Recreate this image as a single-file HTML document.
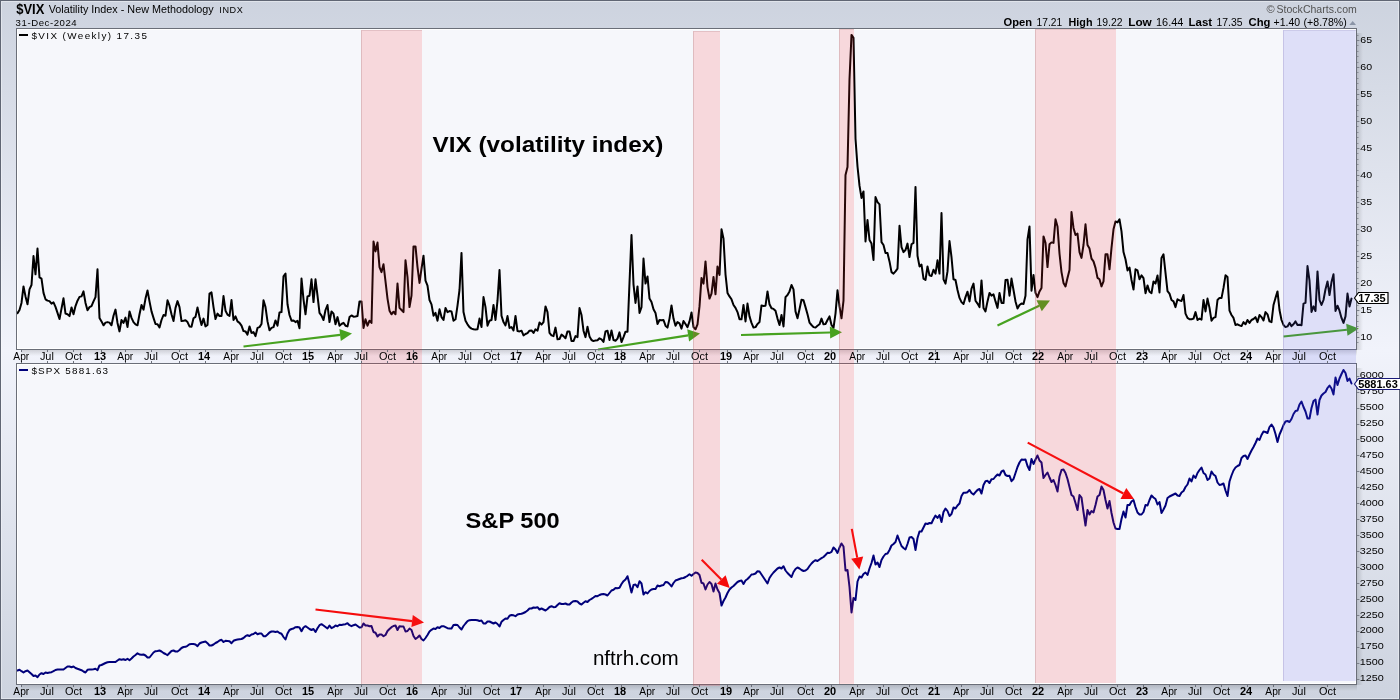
<!DOCTYPE html>
<html><head><meta charset="utf-8"><title>$VIX</title>
<style>
html,body{margin:0;padding:0;background:#cfd4df;}
body{width:1400px;height:700px;overflow:hidden;position:relative;font-family:"Liberation Sans",sans-serif;}
svg{position:absolute;left:0;top:0;display:block;will-change:transform}
svg text{font-family:"Liberation Sans",sans-serif;fill:#000}
</style></head><body>
<svg width="1400" height="700" viewBox="0 0 1400 700">
<defs>
<linearGradient id="bg" x1="0" y1="0" x2="0" y2="1">
<stop offset="0" stop-color="#cdd3df"/><stop offset="0.5" stop-color="#f1f3fb"/><stop offset="1" stop-color="#cdd3df"/>
</linearGradient>
<linearGradient id="shr" x1="0" y1="0" x2="1" y2="0">
<stop offset="0" stop-color="#000" stop-opacity="0.14"/><stop offset="1" stop-color="#000" stop-opacity="0"/>
</linearGradient>
<linearGradient id="shb" x1="0" y1="0" x2="0" y2="1">
<stop offset="0" stop-color="#000" stop-opacity="0.14"/><stop offset="1" stop-color="#000" stop-opacity="0"/>
</linearGradient>
<clipPath id="c1"><rect x="17" y="29" width="1340" height="320"/></clipPath>
<clipPath id="c2"><rect x="17" y="364" width="1340" height="320"/></clipPath>
</defs>
<rect x="0" y="0" width="1400" height="700" fill="url(#bg)"/>

<rect x="1.5" y="1.5" width="1397" height="697" fill="none" stroke="#ffffff" stroke-opacity="0.38" stroke-width="1"/>
<rect x="0.5" y="0.5" width="1399" height="699" fill="none" stroke="#606674" stroke-width="1"/>
<rect x="1357" y="33" width="6" height="317" fill="url(#shr)"/>
<rect x="21" y="350" width="1336" height="6" fill="url(#shb)"/>
<rect x="1357" y="368" width="6" height="317" fill="url(#shr)"/>
<rect x="21" y="685" width="1336" height="6" fill="url(#shb)"/>
<rect x="16" y="28" width="1341" height="322" fill="#f6f7fb"/>
<rect x="17.5" y="29.5" width="1338" height="319" fill="none" stroke="#ffffff" stroke-width="1"/>
<rect x="16" y="363" width="1341" height="322" fill="#f6f7fb"/>
<rect x="17.5" y="364.5" width="1338" height="319" fill="none" stroke="#ffffff" stroke-width="1"/>
<g clip-path="url(#c1)"><polyline points="17.5,313.1 19.5,310.0 21.5,302.9 23.5,286.4 25.5,296.4 27.5,304.3 29.5,289.3 31.5,285.0 33.5,256.1 35.5,274.3 37.5,248.6 39.5,277.4 41.5,278.6 43.5,292.9 45.5,299.3 47.5,300.6 49.5,301.1 51.5,303.6 53.5,302.4 55.5,306.9 57.5,312.9 59.5,319.0 61.5,308.6 63.5,298.3 65.5,313.6 67.5,314.3 69.5,316.1 71.5,307.4 73.5,314.3 75.5,306.1 77.5,300.7 79.5,296.9 81.5,296.4 83.5,291.4 85.5,302.9 87.5,310.3 89.5,307.1 91.5,306.1 93.5,301.4 95.5,297.1 97.5,269.3 99.5,317.9 101.5,321.4 103.5,325.3 105.5,322.6 107.5,322.1 109.5,322.6 111.5,325.3 113.5,315.7 115.5,309.6 117.5,322.9 119.5,331.4 121.5,320.0 123.5,322.9 125.5,317.6 127.5,327.1 129.5,311.4 131.5,317.9 133.5,322.1 135.5,324.3 137.5,325.3 139.5,314.3 141.5,305.0 143.5,309.7 145.5,298.6 147.5,290.4 149.5,301.4 151.5,311.4 153.5,317.9 155.5,324.0 157.5,324.3 159.5,327.4 161.5,320.0 163.5,315.0 165.5,315.7 167.5,300.3 169.5,305.7 171.5,314.3 173.5,321.0 175.5,307.9 177.5,301.1 179.5,307.1 181.5,321.0 183.5,320.7 185.5,320.3 187.5,322.1 189.5,326.4 191.5,326.7 193.5,318.3 195.5,316.9 197.5,307.4 199.5,316.9 201.5,325.0 203.5,318.6 205.5,326.4 207.5,325.0 209.5,293.6 211.5,292.4 213.5,307.1 215.5,319.0 217.5,313.6 219.5,316.0 221.5,316.0 223.5,296.1 225.5,310.7 227.5,314.6 229.5,316.0 231.5,300.0 233.5,320.0 235.5,316.4 237.5,321.4 239.5,322.9 241.5,325.7 243.5,331.1 245.5,331.4 247.5,334.6 249.5,326.4 251.5,332.9 253.5,332.1 255.5,336.1 257.5,327.9 259.5,327.1 261.5,324.0 263.5,300.3 265.5,307.1 267.5,321.4 269.5,330.3 271.5,327.9 273.5,327.1 275.5,320.4 277.5,325.7 279.5,312.4 281.5,312.1 283.5,276.4 285.5,273.6 287.5,304.3 289.5,315.0 291.5,320.7 293.5,320.4 295.5,322.1 297.5,320.7 299.5,328.3 301.5,278.6 303.5,299.3 305.5,314.3 307.5,296.4 309.5,295.7 311.5,279.3 313.5,302.1 315.5,279.3 317.5,295.7 319.5,312.9 321.5,315.7 323.5,320.0 325.5,310.0 327.5,305.0 329.5,322.1 331.5,311.4 333.5,313.6 335.5,324.3 337.5,317.1 339.5,325.7 341.5,324.0 343.5,322.9 345.5,325.7 347.5,326.4 349.5,317.1 351.5,315.4 353.5,316.7 355.5,316.4 357.5,316.0 359.5,301.4 361.5,301.4 363.5,327.9 365.5,319.3 367.5,325.7 369.5,320.7 371.5,322.9 373.5,241.4 375.5,251.4 377.5,242.6 379.5,267.1 381.5,272.1 383.5,264.3 385.5,281.4 387.5,298.6 389.5,310.7 391.5,314.3 393.5,311.7 395.5,314.3 397.5,283.6 399.5,307.9 401.5,310.0 403.5,312.1 405.5,260.3 407.5,277.1 409.5,307.1 411.5,295.7 413.5,246.4 415.5,246.4 417.5,267.1 419.5,282.9 421.5,268.6 423.5,255.7 425.5,280.7 427.5,285.7 429.5,300.0 431.5,304.3 433.5,315.7 435.5,312.9 437.5,320.7 439.5,309.3 441.5,317.1 443.5,320.0 445.5,307.9 447.5,312.1 449.5,311.1 451.5,311.4 453.5,320.7 455.5,319.3 457.5,305.7 459.5,290.0 461.5,252.9 463.5,312.1 465.5,320.7 467.5,324.3 469.5,327.1 471.5,328.6 473.5,329.3 475.5,329.6 477.5,329.3 479.5,318.6 481.5,327.1 483.5,297.1 485.5,307.1 487.5,325.7 489.5,320.7 491.5,320.0 493.5,305.0 495.5,320.0 497.5,300.7 499.5,270.0 501.5,315.7 503.5,322.1 505.5,325.4 507.5,316.1 509.5,327.9 511.5,327.1 513.5,330.4 515.5,316.0 517.5,331.1 519.5,331.4 521.5,330.7 523.5,335.4 525.5,334.0 527.5,333.1 529.5,330.7 531.5,330.4 533.5,332.9 535.5,329.3 537.5,330.7 539.5,322.4 541.5,324.6 543.5,322.1 545.5,306.4 547.5,312.1 549.5,332.9 551.5,335.4 553.5,336.1 555.5,327.6 557.5,339.3 559.5,339.0 561.5,334.6 563.5,336.1 565.5,338.3 567.5,331.4 569.5,331.4 571.5,341.1 573.5,341.1 575.5,336.1 577.5,337.1 579.5,308.1 581.5,315.0 583.5,330.7 585.5,337.1 587.5,326.7 589.5,336.4 591.5,340.0 593.5,341.1 595.5,340.4 597.5,340.3 599.5,338.3 601.5,339.3 603.5,341.9 605.5,331.4 607.5,330.7 609.5,340.0 611.5,330.4 613.5,340.0 615.5,340.7 617.5,338.6 619.5,332.4 621.5,342.1 623.5,337.1 625.5,331.7 627.5,331.7 629.5,282.9 631.5,235.0 633.5,284.3 635.5,302.9 637.5,286.4 639.5,312.9 641.5,307.1 643.5,258.6 645.5,283.6 647.5,276.4 649.5,298.6 651.5,302.1 653.5,309.3 655.5,312.9 657.5,324.0 659.5,320.0 661.5,320.3 663.5,320.0 665.5,325.7 667.5,327.6 669.5,318.6 671.5,305.4 673.5,318.6 675.5,325.7 677.5,322.1 679.5,323.3 681.5,328.6 683.5,321.0 685.5,324.0 687.5,327.1 689.5,321.4 691.5,312.4 693.5,327.1 695.5,329.3 697.5,324.3 699.5,306.4 701.5,277.9 703.5,283.6 705.5,261.4 707.5,287.1 709.5,298.6 711.5,293.6 713.5,276.9 715.5,294.3 717.5,266.4 719.5,275.0 721.5,229.3 723.5,238.6 725.5,274.3 727.5,292.9 729.5,296.4 731.5,299.3 733.5,305.0 735.5,307.9 737.5,312.1 739.5,319.3 741.5,319.3 743.5,305.0 745.5,321.4 747.5,303.6 749.5,316.4 751.5,322.9 753.5,327.6 755.5,327.1 757.5,324.0 759.5,322.1 761.5,305.4 763.5,306.0 765.5,305.7 767.5,291.4 769.5,304.3 771.5,308.3 773.5,308.9 775.5,310.7 777.5,318.6 779.5,325.0 781.5,315.0 783.5,326.4 785.5,297.1 787.5,295.0 789.5,291.4 791.5,285.0 793.5,289.3 795.5,311.4 797.5,318.3 799.5,309.3 801.5,299.7 803.5,300.3 805.5,307.1 807.5,314.3 809.5,322.6 811.5,325.0 813.5,327.1 815.5,327.6 817.5,325.7 819.5,324.3 821.5,318.6 823.5,324.3 825.5,324.0 827.5,320.0 829.5,316.4 831.5,325.0 833.5,327.9 835.5,313.6 837.5,290.3 839.5,306.4 841.5,318.3 843.5,300.7 845.5,175.0 847.5,167.1 849.5,79.2 851.5,34.9 853.5,37.8 855.5,138.7 857.5,166.5 859.5,185.7 861.5,197.9 863.5,191.4 865.5,241.4 867.5,220.0 869.5,240.0 871.5,243.6 873.5,260.0 875.5,197.1 877.5,202.1 879.5,204.3 881.5,242.1 883.5,245.0 885.5,252.9 887.5,253.1 889.5,261.4 891.5,272.1 893.5,273.6 895.5,271.4 897.5,268.6 899.5,225.7 901.5,247.1 903.5,252.1 905.5,250.0 907.5,243.6 909.5,257.1 911.5,244.3 913.5,242.9 915.5,186.9 917.5,255.7 919.5,266.4 921.5,264.6 923.5,278.6 925.5,280.0 927.5,266.4 929.5,275.4 931.5,276.0 933.5,269.7 935.5,273.6 937.5,260.3 939.5,273.6 941.5,213.1 943.5,279.3 945.5,283.6 947.5,271.4 949.5,241.1 951.5,257.1 953.5,279.3 955.5,280.0 957.5,290.0 959.5,297.9 961.5,302.1 963.5,304.0 965.5,297.1 967.5,291.7 969.5,301.4 971.5,288.6 973.5,283.6 975.5,300.7 977.5,303.6 979.5,307.1 981.5,280.4 983.5,307.9 985.5,311.4 987.5,301.4 989.5,292.9 991.5,295.7 993.5,294.3 995.5,301.4 997.5,307.9 999.5,292.9 1001.5,302.9 1003.5,303.1 1005.5,280.0 1007.5,279.7 1009.5,295.7 1011.5,278.6 1013.5,290.0 1015.5,301.4 1017.5,308.6 1019.5,305.0 1021.5,303.6 1023.5,304.0 1025.5,295.7 1027.5,239.3 1029.5,226.4 1031.5,290.7 1033.5,275.0 1035.5,292.9 1037.5,297.1 1039.5,291.4 1041.5,287.9 1043.5,236.4 1045.5,242.9 1047.5,267.1 1049.5,244.3 1051.5,242.4 1053.5,242.9 1055.5,219.3 1057.5,226.4 1059.5,253.6 1061.5,272.1 1063.5,282.9 1065.5,286.4 1067.5,277.9 1069.5,270.0 1071.5,212.1 1073.5,227.9 1075.5,235.0 1077.5,233.6 1079.5,252.1 1081.5,257.9 1083.5,245.0 1085.5,224.3 1087.5,245.0 1089.5,248.6 1091.5,258.6 1093.5,261.4 1095.5,267.9 1097.5,277.9 1099.5,279.3 1101.5,286.4 1103.5,281.4 1105.5,254.3 1107.5,254.3 1109.5,269.3 1111.5,247.9 1113.5,229.3 1115.5,221.4 1117.5,222.4 1119.5,219.3 1121.5,231.4 1123.5,252.1 1125.5,259.3 1127.5,270.4 1129.5,267.5 1131.5,280.0 1133.5,289.6 1135.5,269.3 1137.5,270.4 1139.5,279.3 1141.5,275.4 1143.5,278.2 1145.5,293.2 1147.5,285.4 1149.5,291.8 1151.5,293.2 1153.5,281.4 1155.5,283.6 1157.5,275.4 1159.5,292.5 1161.5,257.9 1163.5,254.3 1165.5,272.9 1167.5,291.1 1169.5,293.6 1171.5,300.0 1173.5,301.4 1175.5,307.1 1177.5,299.3 1179.5,300.4 1181.5,301.0 1183.5,295.0 1185.5,313.6 1187.5,317.9 1189.5,319.3 1191.5,319.3 1193.5,318.6 1195.5,312.1 1197.5,320.0 1199.5,318.6 1201.5,319.6 1203.5,300.0 1205.5,311.4 1207.5,298.6 1209.5,307.9 1211.5,320.7 1213.5,317.9 1215.5,317.1 1217.5,300.0 1219.5,297.9 1221.5,298.1 1223.5,287.9 1225.5,275.3 1227.5,277.1 1229.5,310.7 1231.5,315.0 1233.5,317.9 1235.5,325.0 1237.5,324.3 1239.5,325.4 1241.5,326.1 1243.5,322.1 1245.5,324.3 1247.5,320.0 1249.5,322.9 1251.5,320.0 1253.5,319.0 1255.5,317.1 1257.5,322.1 1259.5,315.0 1261.5,317.1 1263.5,320.4 1265.5,312.1 1267.5,314.3 1269.5,321.4 1271.5,322.1 1273.5,305.0 1275.5,297.9 1277.5,291.4 1279.5,310.0 1281.5,320.0 1283.5,325.0 1285.5,327.1 1287.5,326.4 1289.5,322.9 1291.5,326.1 1293.5,324.3 1295.5,321.4 1297.5,325.0 1299.5,324.7 1301.5,325.3 1303.5,303.6 1305.5,302.9 1307.5,266.1 1309.5,280.7 1311.5,311.9 1313.5,306.4 1315.5,311.0 1317.5,271.4 1319.5,300.0 1321.5,305.0 1323.5,300.0 1325.5,289.3 1327.5,281.4 1329.5,295.0 1331.5,282.1 1333.5,274.3 1335.5,311.0 1337.5,305.7 1339.5,310.7 1341.5,317.9 1343.5,322.9 1345.5,316.4 1347.5,293.6 1349.5,306.4 1351.5,298.6" fill="none" stroke="#000000" stroke-width="2" stroke-linejoin="round" stroke-linecap="round"/></g>
<g clip-path="url(#c2)"><polyline points="17.5,670.5 19.5,669.8 21.5,671.2 23.5,672.5 25.5,671.2 27.5,670.5 29.5,672.2 31.5,674.0 33.5,676.0 35.5,675.5 37.5,677.2 39.5,674.5 41.5,673.2 43.5,674.0 45.5,672.5 47.5,673.0 49.5,672.5 51.5,672.2 53.5,671.2 55.5,670.0 57.5,669.5 59.5,669.5 61.5,669.5 63.5,669.5 65.5,668.0 67.5,666.5 69.5,666.5 71.5,667.2 73.5,666.5 75.5,668.0 77.5,668.8 79.5,669.5 81.5,670.2 83.5,671.5 85.5,672.5 87.5,669.8 89.5,669.5 91.5,669.5 93.5,669.2 95.5,668.8 97.5,670.2 99.5,665.5 101.5,665.0 103.5,664.0 105.5,663.0 107.5,662.2 109.5,662.0 111.5,662.0 113.5,662.0 115.5,662.0 117.5,660.5 119.5,659.2 121.5,659.7 123.5,659.2 125.5,660.0 127.5,658.8 129.5,660.2 131.5,658.5 133.5,656.5 135.5,655.0 137.5,653.3 139.5,654.5 141.5,654.8 143.5,654.5 145.5,655.5 147.5,657.5 149.5,657.5 151.5,655.0 153.5,652.5 155.5,651.2 157.5,651.0 159.5,650.5 161.5,651.5 163.5,653.0 165.5,654.0 167.5,655.2 169.5,653.0 171.5,651.0 173.5,650.5 175.5,651.5 177.5,651.5 179.5,650.0 181.5,648.0 183.5,647.0 185.5,646.8 187.5,645.8 189.5,644.2 191.5,644.0 193.5,644.0 195.5,644.5 197.5,646.2 199.5,643.5 201.5,642.5 203.5,642.0 205.5,641.5 207.5,643.2 209.5,645.5 211.5,645.5 213.5,644.5 215.5,643.0 217.5,642.0 219.5,640.5 221.5,639.8 223.5,642.0 225.5,640.8 227.5,641.0 229.5,641.2 231.5,643.2 233.5,640.8 235.5,640.0 237.5,639.5 239.5,639.2 241.5,639.0 243.5,638.0 245.5,636.2 247.5,635.2 249.5,636.0 251.5,634.5 253.5,634.0 255.5,632.5 257.5,634.2 259.5,633.5 261.5,633.5 263.5,636.2 265.5,636.2 267.5,634.5 269.5,632.5 271.5,631.5 273.5,631.5 275.5,632.0 277.5,631.5 279.5,633.0 281.5,633.8 283.5,637.0 285.5,639.5 287.5,633.5 289.5,630.0 291.5,629.0 293.5,628.5 295.5,627.2 297.5,627.0 299.5,627.5 301.5,631.2 303.5,627.5 305.5,626.2 307.5,627.5 309.5,629.0 311.5,630.0 313.5,629.0 315.5,632.0 317.5,628.2 319.5,625.2 321.5,624.2 323.5,625.5 325.5,627.0 327.5,628.5 329.5,625.5 331.5,628.2 333.5,627.2 335.5,625.5 337.5,626.2 339.5,624.8 341.5,625.0 343.5,624.5 345.5,624.2 347.5,623.2 349.5,625.2 351.5,626.2 353.5,625.2 355.5,624.5 357.5,626.0 359.5,627.5 361.5,627.2 363.5,623.5 365.5,625.5 367.5,625.5 369.5,626.2 371.5,626.0 373.5,632.0 375.5,632.8 377.5,636.5 379.5,634.5 381.5,634.5 383.5,636.2 385.5,635.0 387.5,631.0 389.5,629.0 391.5,627.2 393.5,626.0 395.5,625.5 397.5,630.0 399.5,626.2 401.5,626.5 403.5,626.5 405.5,631.5 407.5,631.0 409.5,628.5 411.5,630.0 413.5,636.0 415.5,639.0 417.5,637.5 419.5,635.5 421.5,639.0 423.5,640.5 425.5,638.0 427.5,635.0 429.5,631.5 431.5,629.8 433.5,628.5 435.5,629.0 437.5,627.2 439.5,628.0 441.5,626.2 443.5,626.2 445.5,627.2 447.5,628.2 449.5,628.5 451.5,628.5 453.5,625.0 455.5,624.8 457.5,625.0 459.5,627.5 461.5,629.5 463.5,626.0 465.5,623.5 467.5,621.2 469.5,620.2 471.5,620.0 473.5,620.0 475.5,620.0 477.5,620.2 479.5,621.0 481.5,620.5 483.5,623.5 485.5,623.5 487.5,621.5 489.5,621.5 491.5,622.5 493.5,623.5 495.5,622.5 497.5,624.0 499.5,626.5 501.5,621.8 503.5,620.0 505.5,618.5 507.5,618.8 509.5,615.8 511.5,615.0 513.5,615.3 515.5,616.2 517.5,614.5 519.5,614.0 521.5,613.8 523.5,613.0 525.5,612.0 527.5,610.5 529.5,608.5 531.5,608.5 533.5,607.5 535.5,607.8 537.5,607.2 539.5,609.5 541.5,608.5 543.5,609.5 545.5,610.5 547.5,609.0 549.5,607.0 551.5,606.2 553.5,607.2 555.5,607.0 557.5,605.0 559.5,603.2 561.5,604.0 563.5,604.0 565.5,603.5 567.5,604.5 569.5,604.5 571.5,602.5 573.5,601.2 575.5,601.0 577.5,601.5 579.5,603.5 581.5,604.5 583.5,602.8 585.5,601.2 587.5,602.0 589.5,600.0 591.5,598.8 593.5,597.5 595.5,596.0 597.5,596.2 599.5,595.0 601.5,594.2 603.5,594.0 605.5,594.5 607.5,595.5 609.5,593.0 611.5,590.5 613.5,589.8 615.5,588.0 617.5,588.2 619.5,587.8 621.5,584.0 623.5,581.2 625.5,579.5 627.5,576.2 629.5,584.0 631.5,592.5 633.5,585.0 635.5,584.5 637.5,587.2 639.5,581.2 641.5,583.5 643.5,594.5 645.5,592.2 647.5,593.5 649.5,591.0 651.5,589.5 653.5,589.0 655.5,589.0 657.5,585.5 659.5,586.2 661.5,585.5 663.5,585.0 665.5,582.0 667.5,582.2 669.5,584.0 671.5,586.5 673.5,583.0 675.5,580.5 677.5,579.8 679.5,579.0 681.5,578.2 683.5,578.0 685.5,577.0 687.5,575.8 689.5,574.2 691.5,575.8 693.5,574.0 695.5,572.5 697.5,573.0 699.5,575.0 701.5,582.8 703.5,583.5 705.5,589.5 707.5,584.5 709.5,582.0 711.5,584.0 713.5,591.5 715.5,583.5 717.5,589.5 719.5,593.0 721.5,605.5 723.5,601.0 725.5,597.5 727.5,593.0 729.5,589.5 731.5,587.5 733.5,586.0 735.5,584.0 737.5,582.0 739.5,581.0 741.5,580.5 743.5,584.0 745.5,580.5 747.5,579.0 749.5,577.0 751.5,574.5 753.5,574.2 755.5,573.5 757.5,571.2 759.5,571.5 761.5,574.5 763.5,577.5 765.5,580.5 767.5,583.5 769.5,578.0 771.5,575.0 773.5,572.5 775.5,570.5 777.5,568.5 779.5,567.5 781.5,568.5 783.5,566.2 785.5,570.5 787.5,573.0 789.5,575.0 791.5,577.0 793.5,572.0 795.5,569.0 797.5,567.5 799.5,568.5 801.5,570.0 803.5,571.0 805.5,570.5 807.5,569.0 809.5,566.0 811.5,563.5 813.5,561.5 815.5,560.2 817.5,561.0 819.5,559.5 821.5,558.2 823.5,557.0 825.5,555.0 827.5,552.8 829.5,553.0 831.5,551.8 833.5,547.5 835.5,549.5 837.5,553.0 839.5,547.5 841.5,543.5 843.5,546.5 845.5,570.5 847.5,570.0 849.5,587.0 851.5,612.5 853.5,598.0 855.5,600.0 857.5,581.5 859.5,576.5 861.5,577.5 863.5,574.0 865.5,572.5 867.5,575.0 869.5,568.5 871.5,563.0 873.5,555.5 875.5,564.5 877.5,562.5 879.5,567.0 881.5,560.0 883.5,556.5 885.5,554.0 887.5,553.5 889.5,550.0 891.5,545.5 893.5,544.0 895.5,542.0 897.5,535.5 899.5,541.0 901.5,546.0 903.5,548.0 905.5,549.5 907.5,544.0 909.5,537.5 911.5,537.0 913.5,539.0 915.5,550.0 917.5,538.0 919.5,531.5 921.5,531.5 923.5,527.5 925.5,523.5 927.5,524.0 929.5,523.0 931.5,523.2 933.5,519.0 935.5,515.5 937.5,518.0 939.5,515.0 941.5,522.0 943.5,512.0 945.5,508.5 947.5,511.0 949.5,516.0 951.5,514.0 953.5,507.5 955.5,508.5 957.5,505.5 959.5,503.5 961.5,496.0 963.5,492.8 965.5,492.8 967.5,492.2 969.5,490.0 971.5,493.0 973.5,494.5 975.5,492.2 977.5,490.0 979.5,489.0 981.5,493.5 983.5,485.0 985.5,481.2 987.5,480.8 989.5,483.0 991.5,479.2 993.5,479.0 995.5,476.5 997.5,474.5 999.5,475.5 1001.5,471.5 1003.5,470.5 1005.5,475.0 1007.5,476.0 1009.5,475.8 1011.5,481.2 1013.5,479.0 1015.5,473.0 1017.5,467.0 1019.5,462.5 1021.5,459.5 1023.5,459.8 1025.5,459.5 1027.5,466.0 1029.5,470.0 1031.5,459.0 1033.5,464.0 1035.5,459.5 1037.5,455.5 1039.5,460.5 1041.5,462.5 1043.5,478.0 1045.5,475.0 1047.5,472.5 1049.5,477.5 1051.5,482.0 1053.5,480.0 1055.5,485.0 1057.5,491.5 1059.5,476.5 1061.5,470.0 1063.5,469.5 1065.5,473.0 1067.5,479.0 1069.5,487.0 1071.5,495.0 1073.5,496.5 1075.5,503.0 1077.5,510.0 1079.5,495.0 1081.5,497.5 1083.5,512.0 1085.5,525.5 1087.5,510.0 1089.5,514.5 1091.5,511.0 1093.5,512.5 1095.5,505.0 1097.5,496.5 1099.5,495.0 1101.5,486.5 1103.5,490.0 1105.5,500.0 1107.5,508.5 1109.5,501.0 1111.5,513.0 1113.5,522.5 1115.5,528.5 1117.5,529.0 1119.5,529.0 1121.5,519.0 1123.5,511.5 1125.5,517.5 1127.5,505.0 1129.5,505.0 1131.5,501.5 1133.5,500.0 1135.5,507.0 1137.5,512.5 1139.5,514.5 1141.5,514.5 1143.5,512.0 1145.5,505.0 1147.5,505.5 1149.5,500.0 1151.5,495.5 1153.5,497.5 1155.5,499.0 1157.5,504.5 1159.5,502.0 1161.5,513.0 1163.5,509.5 1165.5,505.5 1167.5,498.0 1169.5,496.5 1171.5,495.5 1173.5,494.5 1175.5,493.5 1177.5,495.5 1179.5,496.0 1181.5,492.5 1183.5,491.0 1185.5,487.0 1187.5,484.5 1189.5,478.5 1191.5,481.5 1193.5,475.5 1195.5,478.0 1197.5,473.0 1199.5,470.0 1201.5,467.5 1203.5,473.0 1205.5,474.5 1207.5,480.0 1209.5,478.5 1211.5,471.5 1213.5,474.5 1215.5,476.0 1217.5,482.5 1219.5,485.0 1221.5,484.5 1223.5,483.5 1225.5,490.5 1227.5,496.0 1229.5,481.5 1231.5,475.5 1233.5,470.5 1235.5,467.5 1237.5,466.0 1239.5,465.0 1241.5,458.0 1243.5,456.0 1245.5,455.5 1247.5,459.0 1249.5,454.5 1251.5,450.5 1253.5,447.0 1255.5,443.0 1257.5,438.5 1259.5,440.0 1261.5,435.0 1263.5,431.5 1265.5,432.0 1267.5,433.0 1269.5,427.0 1271.5,424.5 1273.5,427.5 1275.5,434.0 1277.5,442.0 1279.5,434.5 1281.5,430.0 1283.5,425.0 1285.5,421.5 1287.5,421.0 1289.5,422.0 1291.5,419.0 1293.5,414.0 1295.5,411.0 1297.5,410.5 1299.5,404.5 1301.5,401.5 1303.5,407.0 1305.5,411.5 1307.5,418.5 1309.5,418.5 1311.5,408.0 1313.5,401.0 1315.5,399.5 1317.5,414.5 1319.5,400.0 1321.5,395.5 1323.5,393.5 1325.5,392.0 1327.5,388.0 1329.5,385.5 1331.5,388.5 1333.5,394.5 1335.5,377.5 1337.5,385.0 1339.5,378.5 1341.5,374.0 1343.5,370.0 1345.5,373.0 1347.5,381.0 1349.5,378.5 1351.5,383.5" fill="none" stroke="#00007a" stroke-width="2" stroke-linejoin="round" stroke-linecap="round"/></g>
<line x1="243.5" y1="346.5" x2="340.1" y2="334.9" stroke="#47a220" stroke-width="2.1"/><polygon points="352.0,333.5 340.8,341.0 339.4,328.9" fill="#47a220"/>
<line x1="598.0" y1="349.5" x2="688.1" y2="335.4" stroke="#47a220" stroke-width="2.1"/><polygon points="700.0,333.5 689.1,341.4 687.2,329.3" fill="#47a220"/>
<line x1="741.0" y1="335.0" x2="830.0" y2="332.5" stroke="#47a220" stroke-width="2.1"/><polygon points="842.0,332.2 830.2,338.6 829.8,326.4" fill="#47a220"/>
<line x1="997.5" y1="325.5" x2="1039.2" y2="305.7" stroke="#47a220" stroke-width="2.1"/><polygon points="1050.0,300.5 1041.8,311.2 1036.5,300.2" fill="#47a220"/>
<line x1="1283.5" y1="336.5" x2="1346.9" y2="329.8" stroke="#47a220" stroke-width="2.1"/><polygon points="1358.8,328.5 1347.5,335.8 1346.2,323.7" fill="#47a220"/>
<line x1="315.5" y1="609.5" x2="412.1" y2="621.1" stroke="#f50b0b" stroke-width="2.1"/><polygon points="424.0,622.5 411.4,627.1 412.8,615.0" fill="#f50b0b"/>
<line x1="701.7" y1="559.7" x2="721.3" y2="579.5" stroke="#f50b0b" stroke-width="2.1"/><polygon points="729.7,588.0 716.9,583.8 725.6,575.2" fill="#f50b0b"/>
<line x1="851.8" y1="528.9" x2="857.2" y2="557.6" stroke="#f50b0b" stroke-width="2.1"/><polygon points="859.4,569.4 851.2,558.7 863.2,556.5" fill="#f50b0b"/>
<line x1="1027.7" y1="442.6" x2="1123.4" y2="493.5" stroke="#f50b0b" stroke-width="2.1"/><polygon points="1134.0,499.1 1120.5,498.9 1126.3,488.1" fill="#f50b0b"/>
<rect x="16.5" y="28.5" width="1340" height="321" fill="none" stroke="#6a6e78" stroke-width="1"/>
<rect x="16.5" y="363.5" width="1340" height="321" fill="none" stroke="#6a6e78" stroke-width="1"/>
<rect x="361" y="30" width="61" height="654" fill="rgba(255,39,44,0.15)"/>
<rect x="361" y="30" width="1" height="654" fill="rgba(150,100,105,0.25)"/>
<rect x="362" y="30" width="60" height="1" fill="rgba(150,100,105,0.2)"/>
<rect x="693" y="31" width="27" height="655" fill="rgba(255,39,44,0.15)"/>
<rect x="693" y="31" width="1" height="655" fill="rgba(150,100,105,0.25)"/>
<rect x="694" y="31" width="26" height="1" fill="rgba(150,100,105,0.2)"/>
<rect x="839" y="29" width="15" height="655" fill="rgba(255,39,44,0.15)"/>
<rect x="839" y="29" width="1" height="655" fill="rgba(150,100,105,0.25)"/>
<rect x="840" y="29" width="14" height="1" fill="rgba(150,100,105,0.2)"/>
<rect x="1035" y="29" width="81" height="654" fill="rgba(255,39,44,0.15)"/>
<rect x="1035" y="29" width="1" height="654" fill="rgba(150,100,105,0.25)"/>
<rect x="1036" y="29" width="80" height="1" fill="rgba(150,100,105,0.2)"/>
<rect x="1283" y="30" width="73" height="651" fill="rgba(85,86,238,0.15)"/>
<rect x="1283" y="30" width="1" height="651" fill="rgba(142,133,188,0.3)"/>
<rect x="1284" y="30" width="72" height="1" fill="rgba(142,133,188,0.22)"/>
<rect x="21" y="350" width="1" height="2" fill="#6a6e78"/>
<rect x="21" y="361" width="1" height="2" fill="#6a6e78"/>
<rect x="21" y="685" width="1" height="2" fill="#6a6e78"/>
<text x="21.3" y="359.8" font-size="10" text-anchor="middle" textLength="15.9" lengthAdjust="spacingAndGlyphs">Apr</text>
<text x="21.3" y="694.6" font-size="10" text-anchor="middle" textLength="15.9" lengthAdjust="spacingAndGlyphs">Apr</text>
<rect x="47" y="350" width="1" height="2" fill="#6a6e78"/>
<rect x="47" y="361" width="1" height="2" fill="#6a6e78"/>
<rect x="47" y="685" width="1" height="2" fill="#6a6e78"/>
<text x="46.9" y="359.8" font-size="10" text-anchor="middle" textLength="14.0" lengthAdjust="spacingAndGlyphs">Jul</text>
<text x="46.9" y="694.6" font-size="10" text-anchor="middle" textLength="14.0" lengthAdjust="spacingAndGlyphs">Jul</text>
<rect x="73" y="350" width="1" height="2" fill="#6a6e78"/>
<rect x="73" y="361" width="1" height="2" fill="#6a6e78"/>
<rect x="73" y="685" width="1" height="2" fill="#6a6e78"/>
<text x="73.5" y="359.8" font-size="10" text-anchor="middle" textLength="17.0" lengthAdjust="spacingAndGlyphs">Oct</text>
<text x="73.5" y="694.6" font-size="10" text-anchor="middle" textLength="17.0" lengthAdjust="spacingAndGlyphs">Oct</text>
<rect x="101" y="350" width="1" height="2" fill="#6a6e78"/>
<rect x="101" y="361" width="1" height="2" fill="#6a6e78"/>
<rect x="101" y="685" width="1" height="2" fill="#6a6e78"/>
<text x="100.1" y="359.8" font-size="10.7" font-weight="bold" text-anchor="middle" textLength="12.2" lengthAdjust="spacingAndGlyphs">13</text>
<text x="100.1" y="694.6" font-size="10.7" font-weight="bold" text-anchor="middle" textLength="12.2" lengthAdjust="spacingAndGlyphs">13</text>
<rect x="125" y="350" width="1" height="2" fill="#6a6e78"/>
<rect x="125" y="361" width="1" height="2" fill="#6a6e78"/>
<rect x="125" y="685" width="1" height="2" fill="#6a6e78"/>
<text x="125.3" y="359.8" font-size="10" text-anchor="middle" textLength="15.9" lengthAdjust="spacingAndGlyphs">Apr</text>
<text x="125.3" y="694.6" font-size="10" text-anchor="middle" textLength="15.9" lengthAdjust="spacingAndGlyphs">Apr</text>
<rect x="151" y="350" width="1" height="2" fill="#6a6e78"/>
<rect x="151" y="361" width="1" height="2" fill="#6a6e78"/>
<rect x="151" y="685" width="1" height="2" fill="#6a6e78"/>
<text x="150.9" y="359.8" font-size="10" text-anchor="middle" textLength="14.0" lengthAdjust="spacingAndGlyphs">Jul</text>
<text x="150.9" y="694.6" font-size="10" text-anchor="middle" textLength="14.0" lengthAdjust="spacingAndGlyphs">Jul</text>
<rect x="179" y="350" width="1" height="2" fill="#6a6e78"/>
<rect x="179" y="361" width="1" height="2" fill="#6a6e78"/>
<rect x="179" y="685" width="1" height="2" fill="#6a6e78"/>
<text x="179.5" y="359.8" font-size="10" text-anchor="middle" textLength="17.0" lengthAdjust="spacingAndGlyphs">Oct</text>
<text x="179.5" y="694.6" font-size="10" text-anchor="middle" textLength="17.0" lengthAdjust="spacingAndGlyphs">Oct</text>
<rect x="205" y="350" width="1" height="2" fill="#6a6e78"/>
<rect x="205" y="361" width="1" height="2" fill="#6a6e78"/>
<rect x="205" y="685" width="1" height="2" fill="#6a6e78"/>
<text x="204.1" y="359.8" font-size="10.7" font-weight="bold" text-anchor="middle" textLength="12.2" lengthAdjust="spacingAndGlyphs">14</text>
<text x="204.1" y="694.6" font-size="10.7" font-weight="bold" text-anchor="middle" textLength="12.2" lengthAdjust="spacingAndGlyphs">14</text>
<rect x="231" y="350" width="1" height="2" fill="#6a6e78"/>
<rect x="231" y="361" width="1" height="2" fill="#6a6e78"/>
<rect x="231" y="685" width="1" height="2" fill="#6a6e78"/>
<text x="231.3" y="359.8" font-size="10" text-anchor="middle" textLength="15.9" lengthAdjust="spacingAndGlyphs">Apr</text>
<text x="231.3" y="694.6" font-size="10" text-anchor="middle" textLength="15.9" lengthAdjust="spacingAndGlyphs">Apr</text>
<rect x="257" y="350" width="1" height="2" fill="#6a6e78"/>
<rect x="257" y="361" width="1" height="2" fill="#6a6e78"/>
<rect x="257" y="685" width="1" height="2" fill="#6a6e78"/>
<text x="256.9" y="359.8" font-size="10" text-anchor="middle" textLength="14.0" lengthAdjust="spacingAndGlyphs">Jul</text>
<text x="256.9" y="694.6" font-size="10" text-anchor="middle" textLength="14.0" lengthAdjust="spacingAndGlyphs">Jul</text>
<rect x="283" y="350" width="1" height="2" fill="#6a6e78"/>
<rect x="283" y="361" width="1" height="2" fill="#6a6e78"/>
<rect x="283" y="685" width="1" height="2" fill="#6a6e78"/>
<text x="283.5" y="359.8" font-size="10" text-anchor="middle" textLength="17.0" lengthAdjust="spacingAndGlyphs">Oct</text>
<text x="283.5" y="694.6" font-size="10" text-anchor="middle" textLength="17.0" lengthAdjust="spacingAndGlyphs">Oct</text>
<rect x="309" y="350" width="1" height="2" fill="#6a6e78"/>
<rect x="309" y="361" width="1" height="2" fill="#6a6e78"/>
<rect x="309" y="685" width="1" height="2" fill="#6a6e78"/>
<text x="308.1" y="359.8" font-size="10.7" font-weight="bold" text-anchor="middle" textLength="12.2" lengthAdjust="spacingAndGlyphs">15</text>
<text x="308.1" y="694.6" font-size="10.7" font-weight="bold" text-anchor="middle" textLength="12.2" lengthAdjust="spacingAndGlyphs">15</text>
<rect x="335" y="350" width="1" height="2" fill="#6a6e78"/>
<rect x="335" y="361" width="1" height="2" fill="#6a6e78"/>
<rect x="335" y="685" width="1" height="2" fill="#6a6e78"/>
<text x="335.3" y="359.8" font-size="10" text-anchor="middle" textLength="15.9" lengthAdjust="spacingAndGlyphs">Apr</text>
<text x="335.3" y="694.6" font-size="10" text-anchor="middle" textLength="15.9" lengthAdjust="spacingAndGlyphs">Apr</text>
<rect x="361" y="350" width="1" height="2" fill="#6a6e78"/>
<rect x="361" y="361" width="1" height="2" fill="#6a6e78"/>
<rect x="361" y="685" width="1" height="2" fill="#6a6e78"/>
<text x="360.9" y="359.8" font-size="10" text-anchor="middle" textLength="14.0" lengthAdjust="spacingAndGlyphs">Jul</text>
<text x="360.9" y="694.6" font-size="10" text-anchor="middle" textLength="14.0" lengthAdjust="spacingAndGlyphs">Jul</text>
<rect x="387" y="350" width="1" height="2" fill="#6a6e78"/>
<rect x="387" y="361" width="1" height="2" fill="#6a6e78"/>
<rect x="387" y="685" width="1" height="2" fill="#6a6e78"/>
<text x="387.5" y="359.8" font-size="10" text-anchor="middle" textLength="17.0" lengthAdjust="spacingAndGlyphs">Oct</text>
<text x="387.5" y="694.6" font-size="10" text-anchor="middle" textLength="17.0" lengthAdjust="spacingAndGlyphs">Oct</text>
<rect x="413" y="350" width="1" height="2" fill="#6a6e78"/>
<rect x="413" y="361" width="1" height="2" fill="#6a6e78"/>
<rect x="413" y="685" width="1" height="2" fill="#6a6e78"/>
<text x="412.1" y="359.8" font-size="10.7" font-weight="bold" text-anchor="middle" textLength="12.2" lengthAdjust="spacingAndGlyphs">16</text>
<text x="412.1" y="694.6" font-size="10.7" font-weight="bold" text-anchor="middle" textLength="12.2" lengthAdjust="spacingAndGlyphs">16</text>
<rect x="439" y="350" width="1" height="2" fill="#6a6e78"/>
<rect x="439" y="361" width="1" height="2" fill="#6a6e78"/>
<rect x="439" y="685" width="1" height="2" fill="#6a6e78"/>
<text x="439.3" y="359.8" font-size="10" text-anchor="middle" textLength="15.9" lengthAdjust="spacingAndGlyphs">Apr</text>
<text x="439.3" y="694.6" font-size="10" text-anchor="middle" textLength="15.9" lengthAdjust="spacingAndGlyphs">Apr</text>
<rect x="465" y="350" width="1" height="2" fill="#6a6e78"/>
<rect x="465" y="361" width="1" height="2" fill="#6a6e78"/>
<rect x="465" y="685" width="1" height="2" fill="#6a6e78"/>
<text x="464.9" y="359.8" font-size="10" text-anchor="middle" textLength="14.0" lengthAdjust="spacingAndGlyphs">Jul</text>
<text x="464.9" y="694.6" font-size="10" text-anchor="middle" textLength="14.0" lengthAdjust="spacingAndGlyphs">Jul</text>
<rect x="491" y="350" width="1" height="2" fill="#6a6e78"/>
<rect x="491" y="361" width="1" height="2" fill="#6a6e78"/>
<rect x="491" y="685" width="1" height="2" fill="#6a6e78"/>
<text x="491.5" y="359.8" font-size="10" text-anchor="middle" textLength="17.0" lengthAdjust="spacingAndGlyphs">Oct</text>
<text x="491.5" y="694.6" font-size="10" text-anchor="middle" textLength="17.0" lengthAdjust="spacingAndGlyphs">Oct</text>
<rect x="517" y="350" width="1" height="2" fill="#6a6e78"/>
<rect x="517" y="361" width="1" height="2" fill="#6a6e78"/>
<rect x="517" y="685" width="1" height="2" fill="#6a6e78"/>
<text x="516.1" y="359.8" font-size="10.7" font-weight="bold" text-anchor="middle" textLength="12.2" lengthAdjust="spacingAndGlyphs">17</text>
<text x="516.1" y="694.6" font-size="10.7" font-weight="bold" text-anchor="middle" textLength="12.2" lengthAdjust="spacingAndGlyphs">17</text>
<rect x="543" y="350" width="1" height="2" fill="#6a6e78"/>
<rect x="543" y="361" width="1" height="2" fill="#6a6e78"/>
<rect x="543" y="685" width="1" height="2" fill="#6a6e78"/>
<text x="543.3" y="359.8" font-size="10" text-anchor="middle" textLength="15.9" lengthAdjust="spacingAndGlyphs">Apr</text>
<text x="543.3" y="694.6" font-size="10" text-anchor="middle" textLength="15.9" lengthAdjust="spacingAndGlyphs">Apr</text>
<rect x="569" y="350" width="1" height="2" fill="#6a6e78"/>
<rect x="569" y="361" width="1" height="2" fill="#6a6e78"/>
<rect x="569" y="685" width="1" height="2" fill="#6a6e78"/>
<text x="568.9" y="359.8" font-size="10" text-anchor="middle" textLength="14.0" lengthAdjust="spacingAndGlyphs">Jul</text>
<text x="568.9" y="694.6" font-size="10" text-anchor="middle" textLength="14.0" lengthAdjust="spacingAndGlyphs">Jul</text>
<rect x="595" y="350" width="1" height="2" fill="#6a6e78"/>
<rect x="595" y="361" width="1" height="2" fill="#6a6e78"/>
<rect x="595" y="685" width="1" height="2" fill="#6a6e78"/>
<text x="595.5" y="359.8" font-size="10" text-anchor="middle" textLength="17.0" lengthAdjust="spacingAndGlyphs">Oct</text>
<text x="595.5" y="694.6" font-size="10" text-anchor="middle" textLength="17.0" lengthAdjust="spacingAndGlyphs">Oct</text>
<rect x="621" y="350" width="1" height="2" fill="#6a6e78"/>
<rect x="621" y="361" width="1" height="2" fill="#6a6e78"/>
<rect x="621" y="685" width="1" height="2" fill="#6a6e78"/>
<text x="620.1" y="359.8" font-size="10.7" font-weight="bold" text-anchor="middle" textLength="12.2" lengthAdjust="spacingAndGlyphs">18</text>
<text x="620.1" y="694.6" font-size="10.7" font-weight="bold" text-anchor="middle" textLength="12.2" lengthAdjust="spacingAndGlyphs">18</text>
<rect x="647" y="350" width="1" height="2" fill="#6a6e78"/>
<rect x="647" y="361" width="1" height="2" fill="#6a6e78"/>
<rect x="647" y="685" width="1" height="2" fill="#6a6e78"/>
<text x="647.3" y="359.8" font-size="10" text-anchor="middle" textLength="15.9" lengthAdjust="spacingAndGlyphs">Apr</text>
<text x="647.3" y="694.6" font-size="10" text-anchor="middle" textLength="15.9" lengthAdjust="spacingAndGlyphs">Apr</text>
<rect x="673" y="350" width="1" height="2" fill="#6a6e78"/>
<rect x="673" y="361" width="1" height="2" fill="#6a6e78"/>
<rect x="673" y="685" width="1" height="2" fill="#6a6e78"/>
<text x="672.9" y="359.8" font-size="10" text-anchor="middle" textLength="14.0" lengthAdjust="spacingAndGlyphs">Jul</text>
<text x="672.9" y="694.6" font-size="10" text-anchor="middle" textLength="14.0" lengthAdjust="spacingAndGlyphs">Jul</text>
<rect x="699" y="350" width="1" height="2" fill="#6a6e78"/>
<rect x="699" y="361" width="1" height="2" fill="#6a6e78"/>
<rect x="699" y="685" width="1" height="2" fill="#6a6e78"/>
<text x="699.5" y="359.8" font-size="10" text-anchor="middle" textLength="17.0" lengthAdjust="spacingAndGlyphs">Oct</text>
<text x="699.5" y="694.6" font-size="10" text-anchor="middle" textLength="17.0" lengthAdjust="spacingAndGlyphs">Oct</text>
<rect x="727" y="350" width="1" height="2" fill="#6a6e78"/>
<rect x="727" y="361" width="1" height="2" fill="#6a6e78"/>
<rect x="727" y="685" width="1" height="2" fill="#6a6e78"/>
<text x="726.1" y="359.8" font-size="10.7" font-weight="bold" text-anchor="middle" textLength="12.2" lengthAdjust="spacingAndGlyphs">19</text>
<text x="726.1" y="694.6" font-size="10.7" font-weight="bold" text-anchor="middle" textLength="12.2" lengthAdjust="spacingAndGlyphs">19</text>
<rect x="751" y="350" width="1" height="2" fill="#6a6e78"/>
<rect x="751" y="361" width="1" height="2" fill="#6a6e78"/>
<rect x="751" y="685" width="1" height="2" fill="#6a6e78"/>
<text x="751.3" y="359.8" font-size="10" text-anchor="middle" textLength="15.9" lengthAdjust="spacingAndGlyphs">Apr</text>
<text x="751.3" y="694.6" font-size="10" text-anchor="middle" textLength="15.9" lengthAdjust="spacingAndGlyphs">Apr</text>
<rect x="777" y="350" width="1" height="2" fill="#6a6e78"/>
<rect x="777" y="361" width="1" height="2" fill="#6a6e78"/>
<rect x="777" y="685" width="1" height="2" fill="#6a6e78"/>
<text x="776.9" y="359.8" font-size="10" text-anchor="middle" textLength="14.0" lengthAdjust="spacingAndGlyphs">Jul</text>
<text x="776.9" y="694.6" font-size="10" text-anchor="middle" textLength="14.0" lengthAdjust="spacingAndGlyphs">Jul</text>
<rect x="805" y="350" width="1" height="2" fill="#6a6e78"/>
<rect x="805" y="361" width="1" height="2" fill="#6a6e78"/>
<rect x="805" y="685" width="1" height="2" fill="#6a6e78"/>
<text x="805.5" y="359.8" font-size="10" text-anchor="middle" textLength="17.0" lengthAdjust="spacingAndGlyphs">Oct</text>
<text x="805.5" y="694.6" font-size="10" text-anchor="middle" textLength="17.0" lengthAdjust="spacingAndGlyphs">Oct</text>
<rect x="831" y="350" width="1" height="2" fill="#6a6e78"/>
<rect x="831" y="361" width="1" height="2" fill="#6a6e78"/>
<rect x="831" y="685" width="1" height="2" fill="#6a6e78"/>
<text x="830.1" y="359.8" font-size="10.7" font-weight="bold" text-anchor="middle" textLength="12.2" lengthAdjust="spacingAndGlyphs">20</text>
<text x="830.1" y="694.6" font-size="10.7" font-weight="bold" text-anchor="middle" textLength="12.2" lengthAdjust="spacingAndGlyphs">20</text>
<rect x="857" y="350" width="1" height="2" fill="#6a6e78"/>
<rect x="857" y="361" width="1" height="2" fill="#6a6e78"/>
<rect x="857" y="685" width="1" height="2" fill="#6a6e78"/>
<text x="857.3" y="359.8" font-size="10" text-anchor="middle" textLength="15.9" lengthAdjust="spacingAndGlyphs">Apr</text>
<text x="857.3" y="694.6" font-size="10" text-anchor="middle" textLength="15.9" lengthAdjust="spacingAndGlyphs">Apr</text>
<rect x="883" y="350" width="1" height="2" fill="#6a6e78"/>
<rect x="883" y="361" width="1" height="2" fill="#6a6e78"/>
<rect x="883" y="685" width="1" height="2" fill="#6a6e78"/>
<text x="882.9" y="359.8" font-size="10" text-anchor="middle" textLength="14.0" lengthAdjust="spacingAndGlyphs">Jul</text>
<text x="882.9" y="694.6" font-size="10" text-anchor="middle" textLength="14.0" lengthAdjust="spacingAndGlyphs">Jul</text>
<rect x="909" y="350" width="1" height="2" fill="#6a6e78"/>
<rect x="909" y="361" width="1" height="2" fill="#6a6e78"/>
<rect x="909" y="685" width="1" height="2" fill="#6a6e78"/>
<text x="909.5" y="359.8" font-size="10" text-anchor="middle" textLength="17.0" lengthAdjust="spacingAndGlyphs">Oct</text>
<text x="909.5" y="694.6" font-size="10" text-anchor="middle" textLength="17.0" lengthAdjust="spacingAndGlyphs">Oct</text>
<rect x="935" y="350" width="1" height="2" fill="#6a6e78"/>
<rect x="935" y="361" width="1" height="2" fill="#6a6e78"/>
<rect x="935" y="685" width="1" height="2" fill="#6a6e78"/>
<text x="934.1" y="359.8" font-size="10.7" font-weight="bold" text-anchor="middle" textLength="12.2" lengthAdjust="spacingAndGlyphs">21</text>
<text x="934.1" y="694.6" font-size="10.7" font-weight="bold" text-anchor="middle" textLength="12.2" lengthAdjust="spacingAndGlyphs">21</text>
<rect x="961" y="350" width="1" height="2" fill="#6a6e78"/>
<rect x="961" y="361" width="1" height="2" fill="#6a6e78"/>
<rect x="961" y="685" width="1" height="2" fill="#6a6e78"/>
<text x="961.3" y="359.8" font-size="10" text-anchor="middle" textLength="15.9" lengthAdjust="spacingAndGlyphs">Apr</text>
<text x="961.3" y="694.6" font-size="10" text-anchor="middle" textLength="15.9" lengthAdjust="spacingAndGlyphs">Apr</text>
<rect x="987" y="350" width="1" height="2" fill="#6a6e78"/>
<rect x="987" y="361" width="1" height="2" fill="#6a6e78"/>
<rect x="987" y="685" width="1" height="2" fill="#6a6e78"/>
<text x="986.9" y="359.8" font-size="10" text-anchor="middle" textLength="14.0" lengthAdjust="spacingAndGlyphs">Jul</text>
<text x="986.9" y="694.6" font-size="10" text-anchor="middle" textLength="14.0" lengthAdjust="spacingAndGlyphs">Jul</text>
<rect x="1013" y="350" width="1" height="2" fill="#6a6e78"/>
<rect x="1013" y="361" width="1" height="2" fill="#6a6e78"/>
<rect x="1013" y="685" width="1" height="2" fill="#6a6e78"/>
<text x="1013.5" y="359.8" font-size="10" text-anchor="middle" textLength="17.0" lengthAdjust="spacingAndGlyphs">Oct</text>
<text x="1013.5" y="694.6" font-size="10" text-anchor="middle" textLength="17.0" lengthAdjust="spacingAndGlyphs">Oct</text>
<rect x="1039" y="350" width="1" height="2" fill="#6a6e78"/>
<rect x="1039" y="361" width="1" height="2" fill="#6a6e78"/>
<rect x="1039" y="685" width="1" height="2" fill="#6a6e78"/>
<text x="1038.1" y="359.8" font-size="10.7" font-weight="bold" text-anchor="middle" textLength="12.2" lengthAdjust="spacingAndGlyphs">22</text>
<text x="1038.1" y="694.6" font-size="10.7" font-weight="bold" text-anchor="middle" textLength="12.2" lengthAdjust="spacingAndGlyphs">22</text>
<rect x="1065" y="350" width="1" height="2" fill="#6a6e78"/>
<rect x="1065" y="361" width="1" height="2" fill="#6a6e78"/>
<rect x="1065" y="685" width="1" height="2" fill="#6a6e78"/>
<text x="1065.3" y="359.8" font-size="10" text-anchor="middle" textLength="15.9" lengthAdjust="spacingAndGlyphs">Apr</text>
<text x="1065.3" y="694.6" font-size="10" text-anchor="middle" textLength="15.9" lengthAdjust="spacingAndGlyphs">Apr</text>
<rect x="1091" y="350" width="1" height="2" fill="#6a6e78"/>
<rect x="1091" y="361" width="1" height="2" fill="#6a6e78"/>
<rect x="1091" y="685" width="1" height="2" fill="#6a6e78"/>
<text x="1090.9" y="359.8" font-size="10" text-anchor="middle" textLength="14.0" lengthAdjust="spacingAndGlyphs">Jul</text>
<text x="1090.9" y="694.6" font-size="10" text-anchor="middle" textLength="14.0" lengthAdjust="spacingAndGlyphs">Jul</text>
<rect x="1117" y="350" width="1" height="2" fill="#6a6e78"/>
<rect x="1117" y="361" width="1" height="2" fill="#6a6e78"/>
<rect x="1117" y="685" width="1" height="2" fill="#6a6e78"/>
<text x="1117.5" y="359.8" font-size="10" text-anchor="middle" textLength="17.0" lengthAdjust="spacingAndGlyphs">Oct</text>
<text x="1117.5" y="694.6" font-size="10" text-anchor="middle" textLength="17.0" lengthAdjust="spacingAndGlyphs">Oct</text>
<rect x="1143" y="350" width="1" height="2" fill="#6a6e78"/>
<rect x="1143" y="361" width="1" height="2" fill="#6a6e78"/>
<rect x="1143" y="685" width="1" height="2" fill="#6a6e78"/>
<text x="1142.1" y="359.8" font-size="10.7" font-weight="bold" text-anchor="middle" textLength="12.2" lengthAdjust="spacingAndGlyphs">23</text>
<text x="1142.1" y="694.6" font-size="10.7" font-weight="bold" text-anchor="middle" textLength="12.2" lengthAdjust="spacingAndGlyphs">23</text>
<rect x="1169" y="350" width="1" height="2" fill="#6a6e78"/>
<rect x="1169" y="361" width="1" height="2" fill="#6a6e78"/>
<rect x="1169" y="685" width="1" height="2" fill="#6a6e78"/>
<text x="1169.3" y="359.8" font-size="10" text-anchor="middle" textLength="15.9" lengthAdjust="spacingAndGlyphs">Apr</text>
<text x="1169.3" y="694.6" font-size="10" text-anchor="middle" textLength="15.9" lengthAdjust="spacingAndGlyphs">Apr</text>
<rect x="1195" y="350" width="1" height="2" fill="#6a6e78"/>
<rect x="1195" y="361" width="1" height="2" fill="#6a6e78"/>
<rect x="1195" y="685" width="1" height="2" fill="#6a6e78"/>
<text x="1194.9" y="359.8" font-size="10" text-anchor="middle" textLength="14.0" lengthAdjust="spacingAndGlyphs">Jul</text>
<text x="1194.9" y="694.6" font-size="10" text-anchor="middle" textLength="14.0" lengthAdjust="spacingAndGlyphs">Jul</text>
<rect x="1221" y="350" width="1" height="2" fill="#6a6e78"/>
<rect x="1221" y="361" width="1" height="2" fill="#6a6e78"/>
<rect x="1221" y="685" width="1" height="2" fill="#6a6e78"/>
<text x="1221.5" y="359.8" font-size="10" text-anchor="middle" textLength="17.0" lengthAdjust="spacingAndGlyphs">Oct</text>
<text x="1221.5" y="694.6" font-size="10" text-anchor="middle" textLength="17.0" lengthAdjust="spacingAndGlyphs">Oct</text>
<rect x="1247" y="350" width="1" height="2" fill="#6a6e78"/>
<rect x="1247" y="361" width="1" height="2" fill="#6a6e78"/>
<rect x="1247" y="685" width="1" height="2" fill="#6a6e78"/>
<text x="1246.1" y="359.8" font-size="10.7" font-weight="bold" text-anchor="middle" textLength="12.2" lengthAdjust="spacingAndGlyphs">24</text>
<text x="1246.1" y="694.6" font-size="10.7" font-weight="bold" text-anchor="middle" textLength="12.2" lengthAdjust="spacingAndGlyphs">24</text>
<rect x="1273" y="350" width="1" height="2" fill="#6a6e78"/>
<rect x="1273" y="361" width="1" height="2" fill="#6a6e78"/>
<rect x="1273" y="685" width="1" height="2" fill="#6a6e78"/>
<text x="1273.3" y="359.8" font-size="10" text-anchor="middle" textLength="15.9" lengthAdjust="spacingAndGlyphs">Apr</text>
<text x="1273.3" y="694.6" font-size="10" text-anchor="middle" textLength="15.9" lengthAdjust="spacingAndGlyphs">Apr</text>
<rect x="1299" y="350" width="1" height="2" fill="#6a6e78"/>
<rect x="1299" y="361" width="1" height="2" fill="#6a6e78"/>
<rect x="1299" y="685" width="1" height="2" fill="#6a6e78"/>
<text x="1298.9" y="359.8" font-size="10" text-anchor="middle" textLength="14.0" lengthAdjust="spacingAndGlyphs">Jul</text>
<text x="1298.9" y="694.6" font-size="10" text-anchor="middle" textLength="14.0" lengthAdjust="spacingAndGlyphs">Jul</text>
<rect x="1327" y="350" width="1" height="2" fill="#6a6e78"/>
<rect x="1327" y="361" width="1" height="2" fill="#6a6e78"/>
<rect x="1327" y="685" width="1" height="2" fill="#6a6e78"/>
<text x="1327.5" y="359.8" font-size="10" text-anchor="middle" textLength="17.0" lengthAdjust="spacingAndGlyphs">Oct</text>
<text x="1327.5" y="694.6" font-size="10" text-anchor="middle" textLength="17.0" lengthAdjust="spacingAndGlyphs">Oct</text>
<rect x="1357" y="342" width="1.5" height="1" fill="#7d818b" opacity="0.8"/>
<rect x="1357" y="337" width="2.4" height="1" fill="#7d818b"/>
<text x="1360.3" y="340.3" font-size="9.8" textLength="11.8" lengthAdjust="spacingAndGlyphs">10</text>
<rect x="1357" y="332" width="1.5" height="1" fill="#7d818b" opacity="0.8"/>
<rect x="1357" y="326" width="1.5" height="1" fill="#7d818b" opacity="0.8"/>
<rect x="1357" y="321" width="1.5" height="1" fill="#7d818b" opacity="0.8"/>
<rect x="1357" y="315" width="1.5" height="1" fill="#7d818b" opacity="0.8"/>
<rect x="1357" y="310" width="2.4" height="1" fill="#7d818b"/>
<text x="1360.3" y="313.3" font-size="9.8" textLength="11.8" lengthAdjust="spacingAndGlyphs">15</text>
<rect x="1357" y="305" width="1.5" height="1" fill="#7d818b" opacity="0.8"/>
<rect x="1357" y="299" width="1.5" height="1" fill="#7d818b" opacity="0.8"/>
<rect x="1357" y="294" width="1.5" height="1" fill="#7d818b" opacity="0.8"/>
<rect x="1357" y="288" width="1.5" height="1" fill="#7d818b" opacity="0.8"/>
<rect x="1357" y="283" width="2.4" height="1" fill="#7d818b"/>
<text x="1360.3" y="286.3" font-size="9.8" textLength="11.8" lengthAdjust="spacingAndGlyphs">20</text>
<rect x="1357" y="278" width="1.5" height="1" fill="#7d818b" opacity="0.8"/>
<rect x="1357" y="272" width="1.5" height="1" fill="#7d818b" opacity="0.8"/>
<rect x="1357" y="267" width="1.5" height="1" fill="#7d818b" opacity="0.8"/>
<rect x="1357" y="261" width="1.5" height="1" fill="#7d818b" opacity="0.8"/>
<rect x="1357" y="256" width="2.4" height="1" fill="#7d818b"/>
<text x="1360.3" y="259.3" font-size="9.8" textLength="11.8" lengthAdjust="spacingAndGlyphs">25</text>
<rect x="1357" y="251" width="1.5" height="1" fill="#7d818b" opacity="0.8"/>
<rect x="1357" y="245" width="1.5" height="1" fill="#7d818b" opacity="0.8"/>
<rect x="1357" y="240" width="1.5" height="1" fill="#7d818b" opacity="0.8"/>
<rect x="1357" y="234" width="1.5" height="1" fill="#7d818b" opacity="0.8"/>
<rect x="1357" y="229" width="2.4" height="1" fill="#7d818b"/>
<text x="1360.3" y="232.3" font-size="9.8" textLength="11.8" lengthAdjust="spacingAndGlyphs">30</text>
<rect x="1357" y="224" width="1.5" height="1" fill="#7d818b" opacity="0.8"/>
<rect x="1357" y="218" width="1.5" height="1" fill="#7d818b" opacity="0.8"/>
<rect x="1357" y="213" width="1.5" height="1" fill="#7d818b" opacity="0.8"/>
<rect x="1357" y="207" width="1.5" height="1" fill="#7d818b" opacity="0.8"/>
<rect x="1357" y="202" width="2.4" height="1" fill="#7d818b"/>
<text x="1360.3" y="205.3" font-size="9.8" textLength="11.8" lengthAdjust="spacingAndGlyphs">35</text>
<rect x="1357" y="197" width="1.5" height="1" fill="#7d818b" opacity="0.8"/>
<rect x="1357" y="191" width="1.5" height="1" fill="#7d818b" opacity="0.8"/>
<rect x="1357" y="186" width="1.5" height="1" fill="#7d818b" opacity="0.8"/>
<rect x="1357" y="180" width="1.5" height="1" fill="#7d818b" opacity="0.8"/>
<rect x="1357" y="175" width="2.4" height="1" fill="#7d818b"/>
<text x="1360.3" y="178.3" font-size="9.8" textLength="11.8" lengthAdjust="spacingAndGlyphs">40</text>
<rect x="1357" y="170" width="1.5" height="1" fill="#7d818b" opacity="0.8"/>
<rect x="1357" y="164" width="1.5" height="1" fill="#7d818b" opacity="0.8"/>
<rect x="1357" y="159" width="1.5" height="1" fill="#7d818b" opacity="0.8"/>
<rect x="1357" y="153" width="1.5" height="1" fill="#7d818b" opacity="0.8"/>
<rect x="1357" y="148" width="2.4" height="1" fill="#7d818b"/>
<text x="1360.3" y="151.3" font-size="9.8" textLength="11.8" lengthAdjust="spacingAndGlyphs">45</text>
<rect x="1357" y="143" width="1.5" height="1" fill="#7d818b" opacity="0.8"/>
<rect x="1357" y="137" width="1.5" height="1" fill="#7d818b" opacity="0.8"/>
<rect x="1357" y="132" width="1.5" height="1" fill="#7d818b" opacity="0.8"/>
<rect x="1357" y="126" width="1.5" height="1" fill="#7d818b" opacity="0.8"/>
<rect x="1357" y="121" width="2.4" height="1" fill="#7d818b"/>
<text x="1360.3" y="124.3" font-size="9.8" textLength="11.8" lengthAdjust="spacingAndGlyphs">50</text>
<rect x="1357" y="116" width="1.5" height="1" fill="#7d818b" opacity="0.8"/>
<rect x="1357" y="110" width="1.5" height="1" fill="#7d818b" opacity="0.8"/>
<rect x="1357" y="105" width="1.5" height="1" fill="#7d818b" opacity="0.8"/>
<rect x="1357" y="99" width="1.5" height="1" fill="#7d818b" opacity="0.8"/>
<rect x="1357" y="94" width="2.4" height="1" fill="#7d818b"/>
<text x="1360.3" y="97.3" font-size="9.8" textLength="11.8" lengthAdjust="spacingAndGlyphs">55</text>
<rect x="1357" y="89" width="1.5" height="1" fill="#7d818b" opacity="0.8"/>
<rect x="1357" y="83" width="1.5" height="1" fill="#7d818b" opacity="0.8"/>
<rect x="1357" y="78" width="1.5" height="1" fill="#7d818b" opacity="0.8"/>
<rect x="1357" y="72" width="1.5" height="1" fill="#7d818b" opacity="0.8"/>
<rect x="1357" y="67" width="2.4" height="1" fill="#7d818b"/>
<text x="1360.3" y="70.3" font-size="9.8" textLength="11.8" lengthAdjust="spacingAndGlyphs">60</text>
<rect x="1357" y="62" width="1.5" height="1" fill="#7d818b" opacity="0.8"/>
<rect x="1357" y="56" width="1.5" height="1" fill="#7d818b" opacity="0.8"/>
<rect x="1357" y="51" width="1.5" height="1" fill="#7d818b" opacity="0.8"/>
<rect x="1357" y="45" width="1.5" height="1" fill="#7d818b" opacity="0.8"/>
<rect x="1357" y="40" width="2.4" height="1" fill="#7d818b"/>
<text x="1360.3" y="43.3" font-size="9.8" textLength="11.8" lengthAdjust="spacingAndGlyphs">65</text>
<rect x="1357" y="35" width="1.5" height="1" fill="#7d818b" opacity="0.8"/>
<rect x="1357" y="679" width="2.4" height="1" fill="#7d818b"/>
<text x="1359.7" y="681.2" font-size="9.8" textLength="24.1" lengthAdjust="spacingAndGlyphs">1250</text>
<rect x="1357" y="663" width="2.4" height="1" fill="#7d818b"/>
<text x="1359.7" y="665.3" font-size="9.8" textLength="24.1" lengthAdjust="spacingAndGlyphs">1500</text>
<rect x="1357" y="647" width="2.4" height="1" fill="#7d818b"/>
<text x="1359.7" y="649.3" font-size="9.8" textLength="24.1" lengthAdjust="spacingAndGlyphs">1750</text>
<rect x="1357" y="631" width="2.4" height="1" fill="#7d818b"/>
<text x="1359.7" y="633.4" font-size="9.8" textLength="24.1" lengthAdjust="spacingAndGlyphs">2000</text>
<rect x="1357" y="615" width="2.4" height="1" fill="#7d818b"/>
<text x="1359.7" y="617.5" font-size="9.8" textLength="24.1" lengthAdjust="spacingAndGlyphs">2250</text>
<rect x="1357" y="599" width="2.4" height="1" fill="#7d818b"/>
<text x="1359.7" y="601.5" font-size="9.8" textLength="24.1" lengthAdjust="spacingAndGlyphs">2500</text>
<rect x="1357" y="583" width="2.4" height="1" fill="#7d818b"/>
<text x="1359.7" y="585.6" font-size="9.8" textLength="24.1" lengthAdjust="spacingAndGlyphs">2750</text>
<rect x="1357" y="567" width="2.4" height="1" fill="#7d818b"/>
<text x="1359.7" y="569.7" font-size="9.8" textLength="24.1" lengthAdjust="spacingAndGlyphs">3000</text>
<rect x="1357" y="551" width="2.4" height="1" fill="#7d818b"/>
<text x="1359.7" y="553.7" font-size="9.8" textLength="24.1" lengthAdjust="spacingAndGlyphs">3250</text>
<rect x="1357" y="535" width="2.4" height="1" fill="#7d818b"/>
<text x="1359.7" y="537.8" font-size="9.8" textLength="24.1" lengthAdjust="spacingAndGlyphs">3500</text>
<rect x="1357" y="519" width="2.4" height="1" fill="#7d818b"/>
<text x="1359.7" y="521.8" font-size="9.8" textLength="24.1" lengthAdjust="spacingAndGlyphs">3750</text>
<rect x="1357" y="503" width="2.4" height="1" fill="#7d818b"/>
<text x="1359.7" y="505.9" font-size="9.8" textLength="24.1" lengthAdjust="spacingAndGlyphs">4000</text>
<rect x="1357" y="487" width="2.4" height="1" fill="#7d818b"/>
<text x="1359.7" y="490.0" font-size="9.8" textLength="24.1" lengthAdjust="spacingAndGlyphs">4250</text>
<rect x="1357" y="471" width="2.4" height="1" fill="#7d818b"/>
<text x="1359.7" y="474.0" font-size="9.8" textLength="24.1" lengthAdjust="spacingAndGlyphs">4500</text>
<rect x="1357" y="455" width="2.4" height="1" fill="#7d818b"/>
<text x="1359.7" y="458.1" font-size="9.8" textLength="24.1" lengthAdjust="spacingAndGlyphs">4750</text>
<rect x="1357" y="439" width="2.4" height="1" fill="#7d818b"/>
<text x="1359.7" y="442.1" font-size="9.8" textLength="24.1" lengthAdjust="spacingAndGlyphs">5000</text>
<rect x="1357" y="424" width="2.4" height="1" fill="#7d818b"/>
<text x="1359.7" y="426.2" font-size="9.8" textLength="24.1" lengthAdjust="spacingAndGlyphs">5250</text>
<rect x="1357" y="408" width="2.4" height="1" fill="#7d818b"/>
<text x="1359.7" y="410.3" font-size="9.8" textLength="24.1" lengthAdjust="spacingAndGlyphs">5500</text>
<rect x="1357" y="392" width="2.4" height="1" fill="#7d818b"/>
<text x="1359.7" y="394.3" font-size="9.8" textLength="24.1" lengthAdjust="spacingAndGlyphs">5750</text>
<rect x="1357" y="376" width="2.4" height="1" fill="#7d818b"/>
<text x="1359.7" y="378.4" font-size="9.8" textLength="24.1" lengthAdjust="spacingAndGlyphs">6000</text>
<polygon points="1354.5,298.0 1358.5,292.5 1388.0,292.5 1388.0,303.5 1358.5,303.5" fill="#fff" stroke="#000" stroke-width="1.2"/><text x="1358.2" y="301.9" font-size="10.6" font-weight="bold" textLength="27.5" lengthAdjust="spacingAndGlyphs">17.35</text>
<polygon points="1354.5,384.0 1358.5,378.5 1402.0,378.5 1402.0,389.5 1358.5,389.5" fill="#fff" stroke="#1a1a7a" stroke-width="1.2"/><text x="1358.2" y="387.9" font-size="10.6" font-weight="bold" textLength="39.6" lengthAdjust="spacingAndGlyphs">5881.63</text>
<text x="16.2" y="13.6" font-size="14" font-weight="bold" textLength="28.1" lengthAdjust="spacingAndGlyphs">$VIX</text>
<text x="48.7" y="13.4" font-size="11" textLength="165.1" lengthAdjust="spacingAndGlyphs">Volatility Index - New Methodology</text>
<text x="219.2" y="12.9" font-size="9.1" textLength="23.7" lengthAdjust="spacing">INDX</text>
<text x="15.6" y="25.9" font-size="9.6" textLength="61.1" lengthAdjust="spacing">31-Dec-2024</text>
<text x="1266.5" y="12.9" font-size="10.5" textLength="8.2" lengthAdjust="spacingAndGlyphs" style="fill:#525252">©</text>
<text x="1276.5" y="12.9" font-size="10.8" textLength="80.3" lengthAdjust="spacingAndGlyphs" style="fill:#525252">StockCharts.com</text>
<text x="1003.6" y="26.1" font-size="10.9" font-weight="bold" textLength="28.5" lengthAdjust="spacingAndGlyphs">Open</text>
<text x="1036.5" y="26.1" font-size="10.2" textLength="25.6" lengthAdjust="spacingAndGlyphs">17.21</text>
<text x="1068.5" y="26.1" font-size="10.9" font-weight="bold" textLength="24.0" lengthAdjust="spacingAndGlyphs">High</text>
<text x="1096.5" y="26.1" font-size="10.2" textLength="26.0" lengthAdjust="spacingAndGlyphs">19.22</text>
<text x="1128.2" y="26.1" font-size="10.9" font-weight="bold" textLength="23.6" lengthAdjust="spacingAndGlyphs">Low</text>
<text x="1156.0" y="26.1" font-size="10.2" textLength="27.3" lengthAdjust="spacingAndGlyphs">16.44</text>
<text x="1188.5" y="26.1" font-size="10.9" font-weight="bold" textLength="23.6" lengthAdjust="spacingAndGlyphs">Last</text>
<text x="1216.5" y="26.1" font-size="10.2" textLength="26.0" lengthAdjust="spacingAndGlyphs">17.35</text>
<text x="1248.5" y="26.1" font-size="10.9" font-weight="bold" textLength="21.9" lengthAdjust="spacingAndGlyphs">Chg</text>
<text x="1273.6" y="26.1" font-size="10.2" textLength="26.5" lengthAdjust="spacingAndGlyphs">+1.40</text>
<text x="1303.6" y="26.1" font-size="10.2" textLength="43.2" lengthAdjust="spacingAndGlyphs">(+8.78%)</text>
<polygon points="1349.3,25 1352.7,21 1356,25" fill="#8a94a6"/>
<rect x="19" y="34" width="9" height="2" fill="#000"/>
<text x="31.4" y="38.9" font-size="9.9" textLength="115.5" lengthAdjust="spacing">$VIX (Weekly) 17.35</text>
<rect x="19" y="369" width="9" height="2" fill="#00007a"/>
<text x="31.4" y="373.6" font-size="9.9" textLength="76.7" lengthAdjust="spacing">$SPX 5881.63</text>
<text x="432.6" y="151.6" font-size="22" font-weight="bold" textLength="230.7" lengthAdjust="spacingAndGlyphs">VIX (volatility index)</text>
<text x="465.6" y="528.3" font-size="22" font-weight="bold" textLength="94.1" lengthAdjust="spacingAndGlyphs">S&amp;P 500</text>
<text x="592.9" y="664.6" font-size="20" textLength="85.9" lengthAdjust="spacingAndGlyphs">nftrh.com</text>
</svg></body></html>
